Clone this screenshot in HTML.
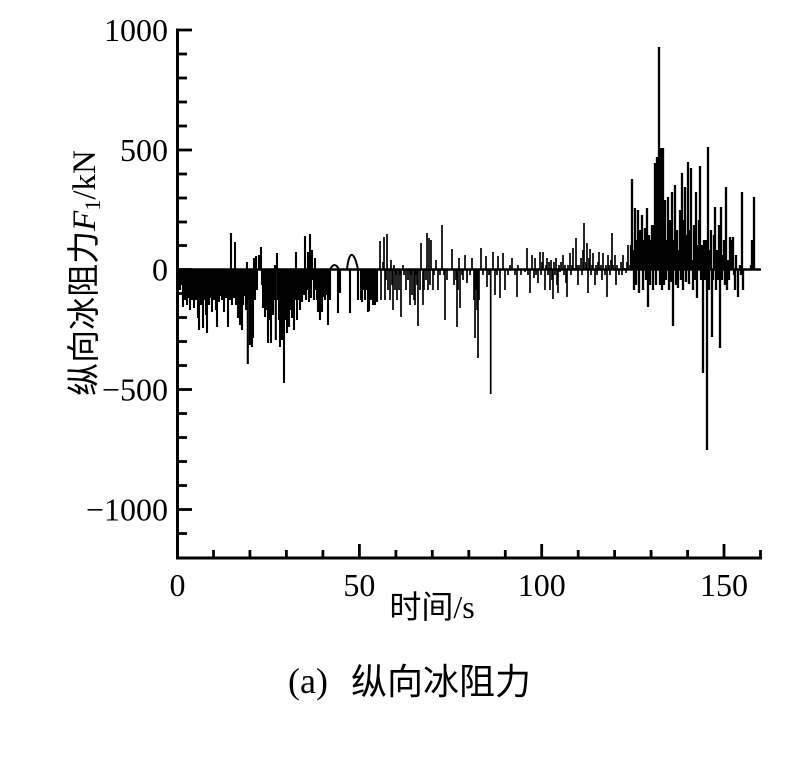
<!DOCTYPE html>
<html><head><meta charset="utf-8"><style>
html,body{margin:0;padding:0;background:#fff;}
svg{display:block;}
text{fill:#000;}
.t{font-family:"Liberation Serif","Noto Serif CJK SC",serif;font-size:32px;}
.c{font-family:"Liberation Serif","Noto Sans CJK SC",serif;}
</style></head><body>
<svg width="811" height="767" viewBox="0 0 811 767" xmlns="http://www.w3.org/2000/svg">
<rect width="811" height="767" fill="#fff"/>
<line x1="177" y1="269.5" x2="761" y2="269.5" stroke="#000" stroke-width="2.6"/>
<path fill="none" stroke="#000" stroke-width="2.1" d="
M178,269.5V275M180,269.5V290M182,269.5V285M183,269.5V307M184,269.5V275M185,269.5V300M187,269.5V305M188,269.5V280M189,269.5V298M190,269.5V310M191,269.5V285M192,269.5V300M193,269.5V276M194,269.5V308M195,269.5V290M196,269.5V300M197,269.5V282M198,269.5V318M199,269.5V330M200,269.5V290M201,269.5V305M202,269.5V283M203,269.5V328M204,269.5V300M205,269.5V292M206,269.5V315M207,269.5V333M208,269.5V290M209,269.5V305M210,269.5V280M211,269.5V298M212,269.5V312M213,269.5V285M214,269.5V300M215,269.5V293M216,269.5V310M217,269.5V327M218,269.5V288M219,269.5V302M220,269.5V296M221,269.5V282M222,269.5V300M223,269.5V295M224,269.5V312M225,269.5V285M226,269.5V298M227,269.5V290M228,269.5V327M229,269.5V280M230,269.5V300M231,269.5V233M232,269.5V305M233,269.5V295M234,269.5V298M235,269.5V242M236,269.5V305M237,269.5V300M238,269.5V318M239,269.5V292M240,269.5V325M241,269.5V300M242,269.5V330M243,269.5V305M244,269.5V296M245,269.5V280M246,269.5V310M247,269.5V262M247.8,269.5V364M249,269.5V300M250,269.5V345M251,269.5V290M252,269.5V347M253,269.5V338M254,269.5V258M255,269.5V300M256,269.5V256M257,269.5V290M259,269.5V255M260,269.5V264M261,269.5V247M262,269.5V285M263,269.5V308M264,269.5V290M265,269.5V317M266,269.5V295M267,269.5V310M268,269.5V343M269,269.5V300M270,269.5V320M271,269.5V343M272,269.5V290M273,269.5V315M274,269.5V300M275,269.5V265M275.8,269.5V340M277,269.5V253M278,269.5V300M279,269.5V320M280,269.5V347M281,269.5V300M282,269.5V340M283,269.5V315M284,269.5V383M285,269.5V305M286,269.5V320M287,269.5V333M288,269.5V300M289,269.5V327M290,269.5V310M291,269.5V295M292,269.5V318M293,269.5V305M294,269.5V330M295,269.5V300M296,269.5V252M297,269.5V320M298,269.5V300M299,269.5V285M300,269.5V310M301,269.5V290M302,269.5V302M303,269.5V278M304,269.5V295M305,269.5V236M306,269.5V300M307,269.5V290M308,269.5V252M309,269.5V302M310,269.5V234M311,269.5V298M312,269.5V250M313,269.5V280M314,269.5V300M315,269.5V258M316,269.5V290M317,269.5V300M318,269.5V312M319,269.5V285M320,269.5V320M321,269.5V300M322,269.5V312M323,269.5V297M324,269.5V285M325,269.5V300M326,269.5V280M327,269.5V295M328,269.5V325M329,269.5V285M330,269.5V300M338,269.5V313M339,269.5V285M340,269.5V293M350,269.5V313M358,269.5V300M361,269.5V300M362,269.5V302M363,269.5V290M365,269.5V300M367,269.5V290M368,269.5V312M369,269.5V311M371,269.5V300M372,269.5V280M373,269.5V305M374,269.5V285M375,269.5V305M376,269.5V290M377,269.5V302"/>
<path fill="none" stroke="#000" stroke-width="2" d="M330,269.5 Q334.5,260.5 339,269.5 M347,269.5 C349,250 354,250 358,269.5"/>
<path fill="none" stroke="#000" stroke-width="1.7" d="
M380,269.5V241M381,269.5V300M383,269.5V262M384,269.5V237M385,269.5V300M386,269.5V280M387,269.5V234M388,269.5V290M390,269.5V300M391,269.5V260M392,269.5V285M393,269.5V310M394,269.5V265M395,269.5V290M396,269.5V275M397,269.5V300M399,269.5V290M400,269.5V275M401,269.5V317M403,269.5V265M404,269.5V275M406,269.5V290M408,269.5V280M410,269.5V305M411,269.5V275M412,269.5V295M414,269.5V300M415,269.5V305M416,269.5V275M417,269.5V285M418,269.5V326M420,269.5V290M421,269.5V243M423,269.5V305M424,269.5V290M426,269.5V280M427,269.5V233M428,269.5V290M429,269.5V238M430,269.5V285M431,269.5V240M433,269.5V290M434,269.5V275M436,269.5V260M438,269.5V290M440,269.5V275M442,269.5V225M444,269.5V275M445,269.5V320M447,269.5V280M452,269.5V249M454,269.5V285M456,269.5V280M457,269.5V327M458,269.5V290M459,269.5V258M460,269.5V308M462,269.5V275M463,269.5V280M465,269.5V255M467,269.5V283M470,269.5V275M472,269.5V258M474,269.5V300M475,269.5V338M476,269.5V290M477,269.5V310M478,269.5V358M479,269.5V300M481,269.5V248M483,269.5V275M486,269.5V256M487,269.5V287M489,269.5V275M490.7,269.5V394M493,269.5V252M495,269.5V295M497,269.5V275M498,269.5V256M500,269.5V298M503,269.5V253M505,269.5V290M508,269.5V275M510,269.5V265M512,269.5V258M515,269.5V275M517,269.5V297M518,269.5V265M521,269.5V275M525,269.5V272M527,269.5V248M528,269.5V275M530,269.5V293M532,269.5V255M534,269.5V278M535,269.5V258M536,269.5V275M538,269.5V283M539,269.5V268M540,269.5V252M541,269.5V275M542,269.5V262M543,269.5V252M545,269.5V290M546,269.5V265M547,269.5V258M548,269.5V275M549,269.5V262M550,269.5V290M551,269.5V260M552,269.5V280M553,269.5V299M554,269.5V262M555,269.5V275M556,269.5V258M557,269.5V285M558,269.5V293M559,269.5V265M560,269.5V272M561,269.5V262M563,269.5V255M564,269.5V275M565,269.5V265M566,269.5V283M567,269.5V297M568,269.5V265M570,269.5V253M571,269.5V275M572,269.5V265M573,269.5V248M575,269.5V268M576,269.5V238M577,269.5V265M578,269.5V285M579,269.5V265M581,269.5V258M582,269.5V275M583,269.5V250M584,269.5V223M585,269.5V268M586,269.5V262M587,269.5V243M588,269.5V293M589,269.5V258M590,269.5V249M591,269.5V275M592,269.5V265M593,269.5V253M595,269.5V285M596,269.5V265M597,269.5V275M598,269.5V262M599,269.5V252M601,269.5V265M602,269.5V280M603,269.5V253M605,269.5V275M606,269.5V265M607,269.5V297M608,269.5V255M609,269.5V265M610,269.5V275M611,269.5V260M612,269.5V233M613,269.5V265M615,269.5V255M616,269.5V285M617,269.5V265M619,269.5V275M621,269.5V262M622,269.5V275M623,269.5V255M625,269.5V268M626,269.5V273M627,269.5V262M628,269.5V245M630,269.5V265"/>
<path fill="none" stroke="#000" stroke-width="2.3" d="
M631,269.5V245M632,269.5V179M633,269.5V250M634,269.5V290M635,269.5V208M636,269.5V285M637,269.5V240M638,269.5V210M639,269.5V293M640,269.5V230M641,269.5V260M642,269.5V215M643,269.5V290M644,269.5V240M645,269.5V228M646,269.5V280M647,269.5V208M648,269.5V307M649,269.5V235M650,269.5V285M651,269.5V240M652,269.5V225M653,269.5V290M654,269.5V225M655,269.5V163M656,269.5V285M657,269.5V157M658,269.5V260M659,269.5V47M660,269.5V285M661,269.5V148M662,269.5V290M663,269.5V148M664,269.5V285M665,269.5V200M666,269.5V280M667,269.5V240M668,269.5V197M669,269.5V290M670,269.5V220M671,269.5V282M672,269.5V192M673,269.5V326M674,269.5V240M675,269.5V185M676,269.5V285M677,269.5V230M678,269.5V288M679,269.5V250M680,269.5V210M681,269.5V280M682,269.5V173M683,269.5V290M684,269.5V220M685,269.5V187M686,269.5V282M687,269.5V235M688,269.5V162M689,269.5V284M690,269.5V230M691,269.5V168M692,269.5V260M693,269.5V290M694,269.5V225M695,269.5V280M696,269.5V192M697,269.5V298M698,269.5V245M699,269.5V220M700,269.5V166M701,269.5V280M702,269.5V245M703,269.5V373M704,269.5V240M705,269.5V280M706,269.5V240M707,269.5V450M708,269.5V147M709,269.5V290M710,269.5V250M711,269.5V230M712,269.5V337M713,269.5V280M714,269.5V235M715,269.5V207M716,269.5V290M717,269.5V250M718,269.5V280M719,269.5V225M720,269.5V348M721,269.5V207M722,269.5V280M723,269.5V255M724,269.5V240M725,269.5V285M726,269.5V187M727,269.5V290M728,269.5V260M729,269.5V280M730,269.5V237M732,269.5V240M733,269.5V237M734,269.5V275M735,269.5V290M736,269.5V255M738,269.5V297M740,269.5V265M741,269.5V275M742,269.5V192M743,269.5V290M751,269.5V265M752,269.5V240M754,269.5V197"/>
<g stroke="#000" stroke-width="3" fill="none">
<line x1="177.5" y1="28.5" x2="177.5" y2="559.5"/>
<line x1="176" y1="558" x2="762" y2="558"/>
</g>
<g stroke="#000" stroke-width="2.8">
<line x1="177" y1="30" x2="192" y2="30"/>
<line x1="177" y1="150" x2="192" y2="150"/>
<line x1="177" y1="269.5" x2="192" y2="269.5"/>
<line x1="177" y1="389.5" x2="192" y2="389.5"/>
<line x1="177" y1="509.5" x2="192" y2="509.5"/>
<line x1="177" y1="54" x2="187" y2="54"/>
<line x1="177" y1="78" x2="187" y2="78"/>
<line x1="177" y1="102" x2="187" y2="102"/>
<line x1="177" y1="126" x2="187" y2="126"/>
<line x1="177" y1="174" x2="187" y2="174"/>
<line x1="177" y1="198" x2="187" y2="198"/>
<line x1="177" y1="222" x2="187" y2="222"/>
<line x1="177" y1="245.5" x2="187" y2="245.5"/>
<line x1="177" y1="293.5" x2="187" y2="293.5"/>
<line x1="177" y1="317.5" x2="187" y2="317.5"/>
<line x1="177" y1="341.5" x2="187" y2="341.5"/>
<line x1="177" y1="365.5" x2="187" y2="365.5"/>
<line x1="177" y1="413.5" x2="187" y2="413.5"/>
<line x1="177" y1="437.5" x2="187" y2="437.5"/>
<line x1="177" y1="461.5" x2="187" y2="461.5"/>
<line x1="177" y1="485.5" x2="187" y2="485.5"/>
<line x1="177" y1="533.5" x2="187" y2="533.5"/>
<line x1="359.4" y1="558" x2="359.4" y2="544"/>
<line x1="541.7" y1="558" x2="541.7" y2="544"/>
<line x1="724" y1="558" x2="724" y2="544"/>
<line x1="213.5" y1="558" x2="213.5" y2="550"/>
<line x1="249.9" y1="558" x2="249.9" y2="550"/>
<line x1="286.4" y1="558" x2="286.4" y2="550"/>
<line x1="322.9" y1="558" x2="322.9" y2="550"/>
<line x1="395.9" y1="558" x2="395.9" y2="550"/>
<line x1="432.3" y1="558" x2="432.3" y2="550"/>
<line x1="468.8" y1="558" x2="468.8" y2="550"/>
<line x1="505.3" y1="558" x2="505.3" y2="550"/>
<line x1="578.2" y1="558" x2="578.2" y2="550"/>
<line x1="614.6" y1="558" x2="614.6" y2="550"/>
<line x1="651.1" y1="558" x2="651.1" y2="550"/>
<line x1="687.6" y1="558" x2="687.6" y2="550"/>
<line x1="760.5" y1="558" x2="760.5" y2="550"/>
</g>
<g class="t" text-anchor="end">
<text x="168" y="41">1000</text>
<text x="168" y="161">500</text>
<text x="168" y="280.5">0</text>
<text x="168" y="400.5">−500</text>
<text x="168" y="520.5">−1000</text>
</g>
<g class="t" text-anchor="middle">
<text x="177.5" y="596">0</text>
<text x="359.4" y="596">50</text>
<text x="541.7" y="596">100</text>
<text x="724" y="596">150</text>
</g>
<text class="c" x="432" y="618" font-size="32" text-anchor="middle">时间/s</text>
<text class="c" transform="translate(95,273) rotate(-90)" font-size="33" text-anchor="middle">纵向冰阻力<tspan font-style="italic">F</tspan><tspan font-size="22" dy="5">1</tspan><tspan dy="-5">/kN</tspan></text>
<text class="c" x="288" y="693" font-size="36">(a)</text>
<text class="c" x="351" y="694" font-size="36">纵向冰阻力</text>
</svg>
</body></html>
